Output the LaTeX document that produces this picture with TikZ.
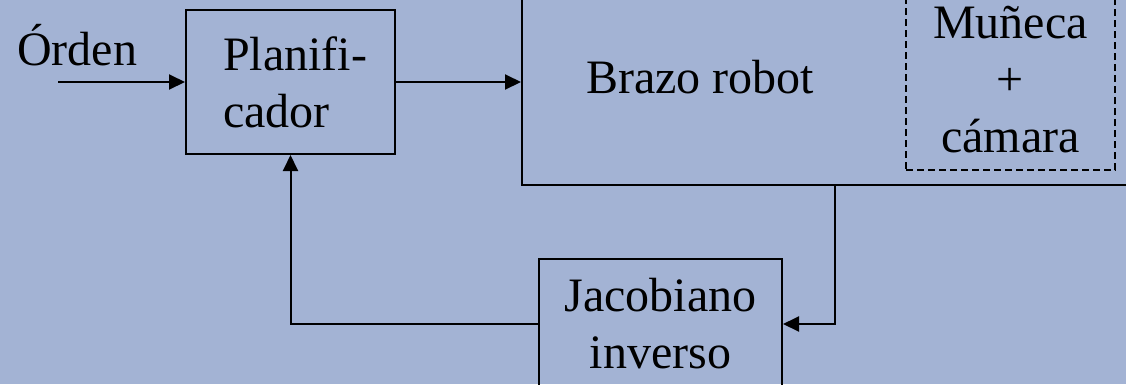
\documentclass[tikz,border=0pt]{standalone}
\usepackage{fontspec}
\setmainfont{Liberation Serif}
\usetikzlibrary{arrows.meta}
\definecolor{bg}{RGB}{163,179,212}
\tikzset{
  diag/.style={x=1pt,y=-1pt},
  blk/.style={draw=black,line width=2pt,rectangle,inner sep=0pt,align=center,
    font=\fontsize{48pt}{57pt}\selectfont},
  dblk/.style={blk,line width=1.5pt,dash pattern=on 7pt off 4pt},
  txt/.style={inner sep=0pt,font=\fontsize{48pt}{57pt}\selectfont},
  conn/.style={draw=black,line width=2pt},
  arr/.style={conn,-{Triangle[length=16pt,width=15pt]}}
}
\begin{document}
\begin{tikzpicture}[diag]
\useasboundingbox (0,0) rectangle (1126,384);
\fill[bg] (0,0) rectangle (1126,384);
\clip (0,0) rectangle (1126,384);
% nodes
\node[txt,anchor=base west] (orden) at (17,65) {Órden};
\node[blk,minimum width=209pt,minimum height=144pt,align=left] (planif) at (290.5,82) {\hspace*{9pt}Planifi-\\\hspace*{9pt}cador};
\node[blk,minimum width=626pt,minimum height=195pt] (brazo) at (835,87.5) {};
\node[txt,anchor=base] (brazotxt) at (700,93) {Brazo robot};
\node[dblk,minimum width=209pt,minimum height=180pt] (camara) at (1010.5,80) {Muñeca\\+\\cámara};
\node[blk,minimum width=243pt,minimum height=130pt] (jac) at (660.5,324) {Jacobiano\\inverso};
\coordinate (in) at (58,82);
% connectors
\draw[arr] (in) -- (planif.west);
\draw[arr] (planif.east) -- (planif.east -| brazo.west);
\draw[arr] (brazo.south) |- (jac.east);
\draw[arr] (jac.west) -| (planif.south);
\end{tikzpicture}
\end{document}
